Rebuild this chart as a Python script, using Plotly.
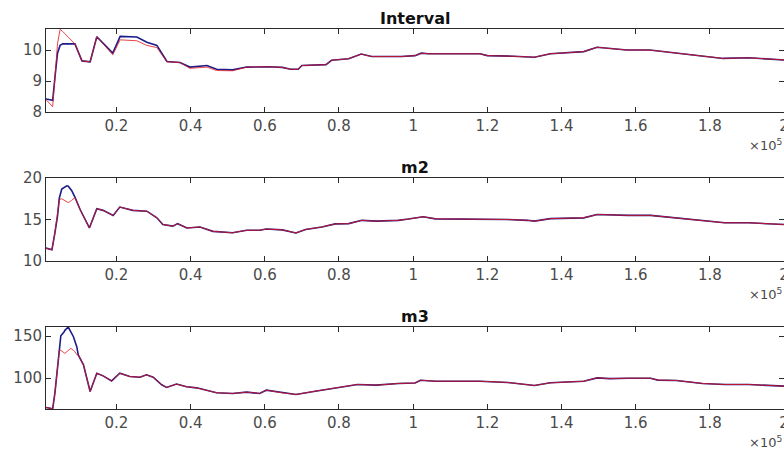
import plotly.graph_objects as go

# ---------------- data (x in samples) ----------------
x_interval = [1000, 2800, 3400, 4100, 4800, 5500, 8800, 10700, 12900, 14700, 19000, 21000,
              25500, 28200, 30900, 33600, 37100, 39800, 44400, 47000, 51300, 55100, 61000,
              64700, 67000, 69000, 70000, 76500, 78000, 82600, 86000, 88800, 96800, 100500,
              102200, 104000, 118000, 120000, 127000, 132700, 137000, 146000, 149600, 153000,
              157600, 163800, 171000, 177200, 183600, 190500, 197800, 200000]
interval_blue = [8.42, 8.38, 9.1, 9.9, 10.15, 10.2, 10.2, 9.65, 9.62, 10.43, 9.9, 10.44,
                 10.42, 10.25, 10.15, 9.63, 9.6, 9.45, 9.5, 9.38, 9.36, 9.45, 9.46,
                 9.44, 9.38, 9.38, 9.5, 9.53, 9.67, 9.72, 9.87, 9.79, 9.79, 9.82,
                 9.9, 9.88, 9.88, 9.82, 9.8, 9.77, 9.88, 9.95, 10.09, 10.05,
                 10.0, 10.0, 9.91, 9.81, 9.73, 9.75, 9.68, 9.68]
interval_red = [8.4, 8.17, 9.1, 10.2, 10.67, 10.6, 10.2, 9.65, 9.62, 10.43, 9.85, 10.33,
                10.3, 10.15, 10.08, 9.62, 9.6, 9.41, 9.45, 9.34, 9.33, 9.45, 9.46,
                9.44, 9.38, 9.38, 9.5, 9.53, 9.67, 9.72, 9.87, 9.79, 9.79, 9.82,
                9.9, 9.88, 9.88, 9.82, 9.8, 9.77, 9.88, 9.95, 10.09, 10.05,
                10.0, 10.0, 9.91, 9.81, 9.73, 9.75, 9.68, 9.68]

x_m2 = [1000, 2600, 3400, 4100, 4600, 5250, 6600, 7000, 7900, 8800, 10200, 12700, 14700,
        16400, 19100, 20900, 24400, 28200, 30900, 32500, 35200, 36500, 39000, 42500, 46000,
        51300, 55100, 58600, 60400, 64700, 68400, 71000, 75400, 79000, 82600, 86200, 90000,
        96000, 98700, 102700, 106000, 118000, 125500, 130800, 132700, 137000, 146000, 149600,
        153000, 158000, 164000, 173000, 177000, 184000, 190500, 197800, 200000]
m2_blue = [11.55, 11.35, 13.4, 15.4, 17.6, 18.66, 19.06, 19.0, 18.5, 17.7, 16.2, 13.98, 16.3,
           16.1, 15.49, 16.5, 16.1, 16.0, 15.2, 14.4, 14.2, 14.5, 13.98, 14.1, 13.57,
           13.4, 13.7, 13.7, 13.85, 13.75, 13.38, 13.8, 14.1, 14.47, 14.5, 14.9, 14.8,
           14.9, 15.05, 15.33, 15.08, 15.08, 15.0, 14.9, 14.8, 15.1, 15.2, 15.6,
           15.55, 15.5, 15.5, 15.1, 14.95, 14.6, 14.6, 14.4, 14.4]
m2_red = [11.55, 11.35, 13.4, 15.4, 17.4, 17.5, 17.2, 17.03, 17.3, 17.64, 16.2, 13.98, 16.3,
          16.1, 15.49, 16.5, 16.1, 16.0, 15.2, 14.4, 14.2, 14.5, 13.98, 14.1, 13.57,
          13.4, 13.7, 13.7, 13.85, 13.75, 13.38, 13.8, 14.1, 14.47, 14.5, 14.9, 14.8,
          14.9, 15.05, 15.33, 15.08, 15.08, 15.0, 14.9, 14.8, 15.1, 15.2, 15.6,
          15.55, 15.5, 15.5, 15.1, 14.95, 14.6, 14.6, 14.4, 14.4]

x_m3 = [1000, 2800, 3400, 4100, 4600, 5000, 5900, 6100, 7000, 7700, 8400, 8800, 9300, 9700,
        11100, 12900, 14700, 16400, 18700, 20900, 23600, 26300, 28100, 29900, 32200, 33500,
        36200, 38900, 41600, 47000, 51300, 55100, 58600, 60400, 64700, 68400, 73600, 79000,
        85000, 90000, 96000, 100500, 102000, 106000, 118000, 125500, 128200, 132700, 137000,
        146000, 149600, 153000, 158000, 164000, 166000, 171000, 178000, 184000, 190500,
        197800, 200000]
m3_blue = [64.9, 63.3, 81.9, 111.7, 133.6, 150.6, 155.4, 157.0, 161.0, 156.0, 149.4, 144.0,
           137.5, 127.6, 115.7, 83.9, 105.7, 102.6, 96.6, 105.7, 101.8, 101.0, 103.8, 101.0,
           91.9, 88.7, 92.8, 89.6, 88.3, 82.4, 81.6, 83.2, 81.5, 85.5, 82.3, 80.4, 84.3,
           88.3, 92.3, 91.5, 93.5, 94.0, 97.4, 96.2, 96.2, 94.7, 93.5, 91.1, 94.3, 96.2,
           100.2, 99.3, 99.8, 99.8, 97.5, 97.1, 93.5, 92.3, 92.3, 90.3, 90.3]
m3_red = [64.9, 63.3, 81.9, 111.7, 133.6, 133.0, 130.0, 129.5, 133.0, 135.5, 133.0, 131.5,
          128.0, 127.6, 115.7, 83.9, 105.7, 102.6, 96.6, 105.7, 101.8, 101.0, 103.8, 101.0,
          91.9, 88.7, 92.8, 89.6, 88.3, 82.4, 81.6, 83.2, 81.5, 85.5, 82.3, 80.4, 84.3,
          88.3, 92.3, 91.5, 93.5, 94.0, 97.4, 96.2, 96.2, 94.7, 93.5, 91.1, 94.3, 96.2,
          100.2, 99.3, 99.8, 99.8, 97.5, 97.1, 93.5, 92.3, 92.3, 90.3, 90.3]

titles = ["Interval", "m2", "m3"]
x_tickvals = [20000, 40000, 60000, 80000, 100000, 120000, 140000, 160000, 180000, 200000]
x_ticktext = ["0.2", "0.4", "0.6", "0.8", "1", "1.2", "1.4", "1.6", "1.8", "2"]
y_ranges = [[8, 10.68], [10, 20], [63, 161]]
y_dticks = [1, 5, 50]

# ---------------- layout helpers ----------------
W, H = 784, 450
panels_px = [(29, 112), (178, 261), (327, 409)]  # top, bottom pixel rows of each axes box
BLUE = "#1c1c8a"
RED = "#e8151b"
FONT = "DejaVu Sans"
TICKCOL = "#4a4a4a"
AXCOL = "#2a2a2a"

series = [(x_interval, interval_blue, interval_red),
          (x_m2, m2_blue, m2_red),
          (x_m3, m3_blue, m3_red)]

fig = go.Figure()
annotations = []
for i, ((xs, yb, yr), (top, bot)) in enumerate(zip(series, panels_px)):
    n = "" if i == 0 else str(i + 1)
    fig.add_trace(go.Scatter(x=xs, y=yb, mode="lines", line=dict(color=BLUE, width=1.6),
                             xaxis="x" + n, yaxis="y" + n, showlegend=False, hoverinfo="skip"))
    fig.add_trace(go.Scatter(x=xs, y=yr, mode="lines", line=dict(color=RED, width=1.0),
                             opacity=0.8,
                             xaxis="x" + n, yaxis="y" + n, showlegend=False, hoverinfo="skip"))
    common = dict(showgrid=False, zeroline=False, showline=True, linecolor=AXCOL, linewidth=1,
                  mirror="ticks", ticks="inside", ticklen=5, tickcolor=AXCOL, tickwidth=1,
                  automargin=False,
                  tickfont=dict(family=FONT, size=15, color=TICKCOL))
    fig.layout["xaxis" + n] = dict(common, domain=[0, 1], range=[1000, 200000],
                                   anchor="y" + n, tickmode="array", tickvals=x_tickvals,
                                   ticktext=x_ticktext, ticklabeloverflow="allow")
    fig.layout["yaxis" + n] = dict(common, domain=[1 - bot / H, 1 - top / H],
                                   range=y_ranges[i], anchor="x" + n, dtick=y_dticks[i],
                                   tick0=0)
    annotations.append(dict(text="<b>" + titles[i] + "</b>", xref="paper", yref="paper",
                            x=0.5, y=1 - (top - 11) / H, xanchor="center", yanchor="middle",
                            showarrow=False, font=dict(family=FONT, size=16, color="#111111")))
    annotations.append(dict(text="×10<sup>5</sup>", xref="paper", yref="paper",
                            x=1.0, y=1 - (bot + 33) / H, xanchor="right", yanchor="middle",
                            showarrow=False, font=dict(family=FONT, size=13, color=TICKCOL)))

fig.update_layout(width=W, height=H,
                  margin=dict(l=46, r=0, t=0, b=0, pad=0, autoexpand=False),
                  paper_bgcolor="white", plot_bgcolor="white", annotations=annotations)

post = ("document.body.style.margin='0';document.body.style.overflow='hidden';"
        "var d=document.getElementById('{plot_id}');"
        "d.style.position='absolute';d.style.left='0px';d.style.top='0px';")
fig.write_html("out.html", post_script=post, config={"displayModeBar": False})
